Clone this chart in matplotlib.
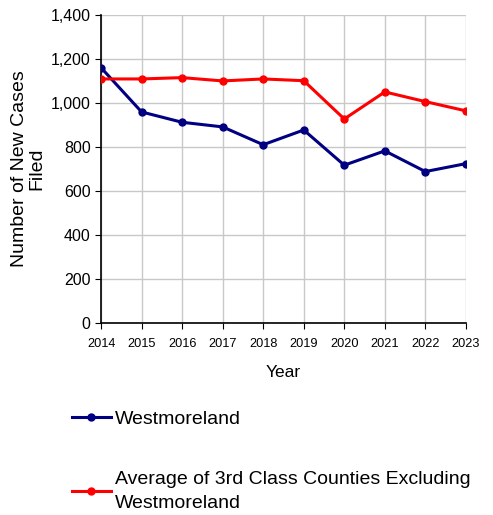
import matplotlib
matplotlib.use("Agg")
from matplotlib import pyplot as plt
from matplotlib.ticker import FuncFormatter

plt.rcParams["font.family"] = ["Liberation Sans", "DejaVu Sans"]

years = [2014, 2015, 2016, 2017, 2018, 2019, 2020, 2021, 2022, 2023]
westmoreland = [1160, 959, 912, 891, 810, 877, 717, 782, 688, 724]
third_class_avg = [1109, 1109, 1115, 1100, 1109, 1101, 927, 1050, 1006, 964]

fig = plt.figure(figsize=(4.93, 5.15), dpi=100)
ax = fig.add_axes([0.205, 0.373, 0.74, 0.598])

l1, = ax.plot(years, westmoreland, color="#000080", lw=2.2, marker="o", ms=5,
              label="Westmoreland", zorder=3)
l2, = ax.plot(years, third_class_avg, color="#ff0000", lw=2.2, marker="o", ms=5,
              label="Average of 3rd Class Counties Excluding\nWestmoreland", zorder=3)

ax.set_xlim(2014, 2023)
ax.set_ylim(0, 1400)
ax.set_xticks(years)
ax.set_yticks(range(0, 1401, 200))
ax.yaxis.set_major_formatter(FuncFormatter(lambda v, p: f"{int(v):,}"))
ax.grid(True, color="#c8c8c8", lw=1)
ax.set_axisbelow(True)
for s in ["top", "right"]:
    ax.spines[s].set_visible(False)
ax.spines["left"].set_linewidth(1.2)
ax.spines["bottom"].set_linewidth(1.2)
ax.tick_params(axis="y", labelsize=11.5, length=4, direction="out")
ax.tick_params(axis="x", labelsize=9.2, length=4, direction="out", pad=7)
ax.set_xlabel("Year", fontsize=12.5, labelpad=11)
ax.set_ylabel("Number of New Cases\nFiled", fontsize=14, labelpad=4, linespacing=1.0)

leg = fig.legend(handles=[l1, l2], loc="upper left", bbox_to_anchor=(0.13, 0.219),
                 frameon=False, fontsize=14, handlelength=2.0, handletextpad=0.2,
                 labelspacing=2.25, borderaxespad=0)
for t in leg.get_texts():
    t.set_linespacing(1.5)

fig.savefig("out.png", dpi=100)
